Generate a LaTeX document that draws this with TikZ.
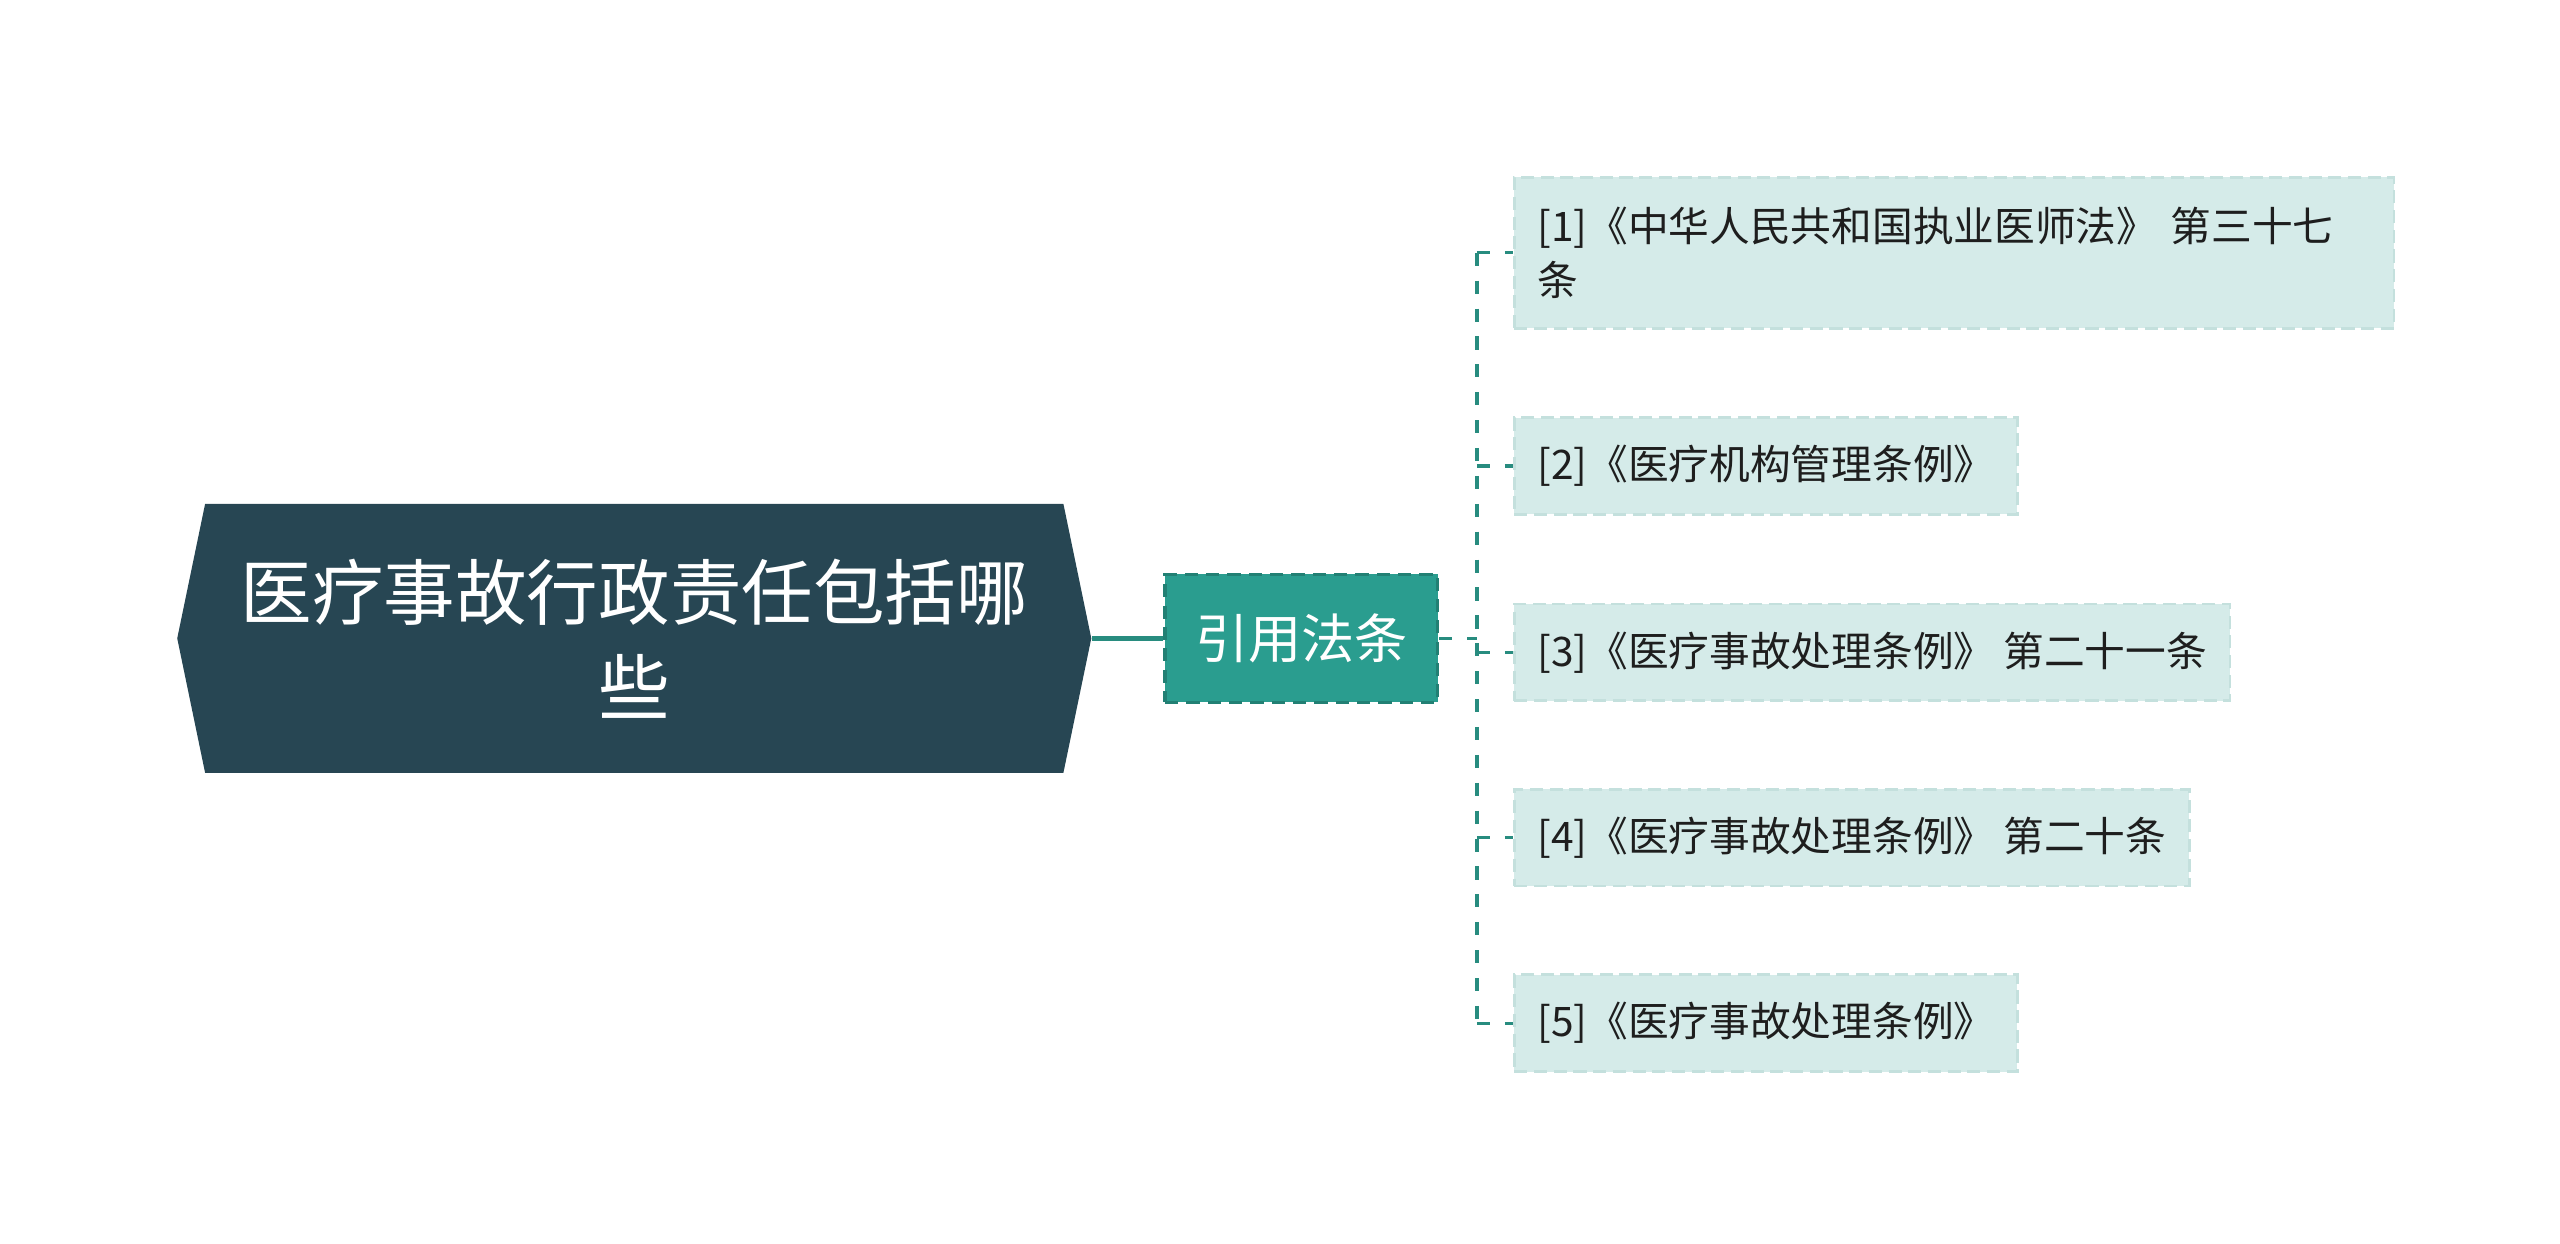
\documentclass[tikz,border=0pt]{standalone}
\usepackage{fontspec}
\newfontfamily\cjk{Noto Sans CJK SC}
\usetikzlibrary{positioning}
\definecolor{rootfill}{RGB}{39,70,83}
\definecolor{citefill}{RGB}{42,157,143}
\definecolor{citeline}{RGB}{34,128,116}
\definecolor{leaffill}{RGB}{213,235,233}
\definecolor{leafline}{RGB}{196,224,221}
\definecolor{linkcol}{RGB}{40,140,127}
\definecolor{leaftext}{RGB}{30,30,30}

\begin{document}
\begin{tikzpicture}[x=0.5pt,y=0.5pt,yscale=-1,
  leafbox/.style={draw=leafline, fill=leaffill, line width=0.8pt, dash pattern=on 4pt off 2pt,
    anchor=west, inner xsep=7pt, inner ysep=0pt, minimum height=29.5pt, text=leaftext,
    font=\cjk\fontsize{12.4}{16.5}\selectfont, align=left},
  link/.style={draw=linkcol, line width=1pt, dash pattern=on 4pt off 4.5pt}]
\useasboundingbox (0,0) rectangle (1560,758);

%Shape: Hexagon [root]
\fill [rootfill] (108,389) -- (125,307) -- (648,307) -- (665,389) -- (648,471) -- (125,471) -- cycle ;
% Text Node
\node (root) [minimum width=278.5pt, minimum height=82pt, inner sep=0pt, text=white, align=center,
  font=\cjk\fontsize{21.8}{29}\selectfont] at (386.5,389) {医疗事故行政责任包括哪\\些};

% Text Node
\node (cite) [draw=citeline, fill=citefill, line width=1pt, dash pattern=on 4pt off 2.5pt,
  minimum width=83pt, minimum height=39pt, inner sep=0pt, text=white,
  font=\cjk\fontsize{16.2}{20}\selectfont] at (793,389) {引用法条};

% Text Nodes
\node (law1) [leafbox, minimum height=46pt, text width=254pt] at (922,154) {[1]《中华人民共和国执业医师法》 第三十七\\条};
\node (law2) [leafbox] at (922,284) {[2]《医疗机构管理条例》};
\node (law3) [leafbox] at (922,397.5) {[3]《医疗事故处理条例》 第二十一条};
\node (law4) [leafbox] at (922,510.5) {[4]《医疗事故处理条例》 第二十条};
\node (law5) [leafbox] at (922,623.5) {[5]《医疗事故处理条例》};

%Straight Lines
\draw [draw=linkcol, line width=1.5pt] (root.east) -- (cite.west) ;
\coordinate (bus) at (900,389) ;
\draw [link] (cite.east) -- (bus) ;
\draw [link] (bus |- law1.west) -- (bus |- law5.west) ;
\foreach \n in {law1,law2,law3,law4,law5}
  \draw [link] (bus |- \n.west) -- (\n.west) ;

\end{tikzpicture}
\end{document}
